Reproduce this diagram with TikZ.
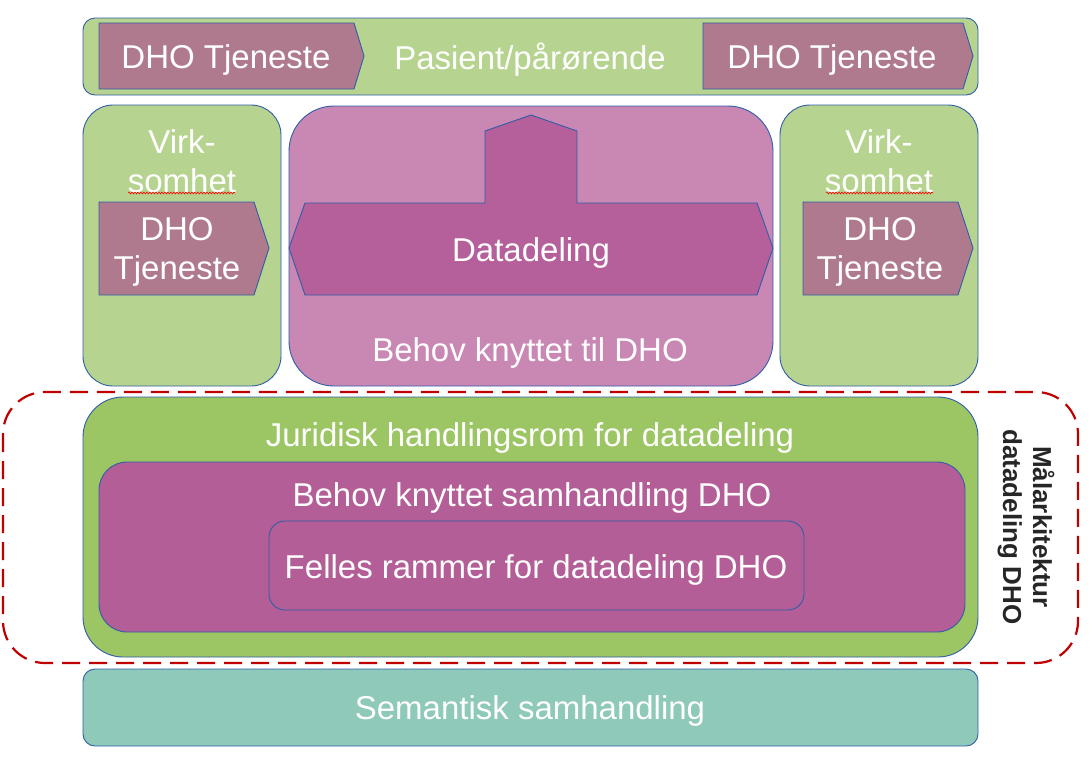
\documentclass[tikz,border=0pt]{standalone}
\usepackage{fontspec}
\setmainfont{Liberation Sans}
\usetikzlibrary{decorations.pathmorphing}
\definecolor{lgreen}{HTML}{B6D48F}
\definecolor{mgreen}{HTML}{9CC563}
\definecolor{lpurple}{HTML}{C987B4}
\definecolor{dpurple}{HTML}{B45E98}
\definecolor{spurple}{HTML}{B5609A}
\definecolor{mauve}{HTML}{B07A8E}
\definecolor{teal2}{HTML}{8FC9B9}
\definecolor{bline}{HTML}{2F5DA8}
\definecolor{dred}{HTML}{C00000}
\definecolor{dtext}{HTML}{262626}
\begin{document}
\begin{tikzpicture}[x=1pt,y=-1pt,
  box/.style={draw=bline,line width=0.9pt},
  wt/.style={text=white,font=\fontsize{33}{39}\selectfont,align=center,inner sep=0pt},
  rt/.style={text=dtext,font=\bfseries\fontsize{26}{30}\selectfont,align=center,inner sep=0pt,rotate=-90},
  squig/.style={draw=red,line width=0.6pt,decorate,decoration={snake,amplitude=0.9pt,segment length=3pt}}]
\useasboundingbox (0,0) rectangle (1091,758);
% top bar
\path[box,fill=lgreen,rounded corners=12pt] (83,18) rectangle (978,95);
\path[box,fill=mauve] (99,23) -- (354,23) -- (364,56) -- (354,89) -- (99,89) -- cycle;
\path[box,fill=mauve] (703,23) -- (963,23) -- (973,56) -- (963,89) -- (703,89) -- cycle;
\node[wt] (t1) at (226,60) {DHO Tjeneste};
\node[wt] (pas) at (530,60) {Pasient/pårørende};
\node[wt] (t2) at (832,60) {DHO Tjeneste};
% left Virksomhet
\path[box,fill=lgreen,rounded corners=30pt] (83,105) rectangle (281,386);
\node[wt] (v1) at (182,161) {Virk-\\somhet};
\draw[squig] (128,193) -- (235,193);
\path[box,fill=mauve] (99,202) -- (254,202) -- (269,248) -- (254,295) -- (99,295) -- cycle;
\node[wt] (d1) at (177,252) {DHO\\Tjeneste};
% right Virksomhet
\path[box,fill=lgreen,rounded corners=30pt] (780,105) rectangle (978,386);
\node[wt] (v2) at (879,161) {Virk-\\somhet};
\draw[squig] (826,193) -- (933,193);
\path[box,fill=mauve] (803,202) -- (958,202) -- (973,248) -- (958,295) -- (803,295) -- cycle;
\node[wt] (d2) at (880,252) {DHO\\Tjeneste};
% middle
\path[box,fill=lpurple,rounded corners=45pt] (289,106) rectangle (773,386);
\path[box,fill=spurple] (289,248) -- (305,203) -- (485,203) -- (485,131) -- (531,115) -- (577,131) -- (577,203) -- (757,203) -- (773,248) -- (757,295) -- (305,295) -- cycle;
\node[wt] (dd) at (531,253) {Datadeling};
\node[wt] (bk) at (530,353) {Behov knyttet til DHO};
% dashed frame
\draw[dred,line width=2.2pt,dash pattern=on 18pt off 9pt,rounded corners=42pt] (3,392) rectangle (1078,663);
% Juridisk
\path[box,fill=mgreen,rounded corners=40pt] (83,397) rectangle (978,657);
\node[wt] (jur) at (530,438) {Juridisk handlingsrom for datadeling};
\path[box,fill=dpurple,rounded corners=28pt] (99,462) rectangle (965,632);
\node[wt] (bs) at (532,498) {Behov knyttet samhandling DHO};
\path[box,fill=dpurple,rounded corners=16pt] (269,521) rectangle (804,610);
\node[wt] (fr) at (536,570) {Felles rammer for datadeling DHO};
% semantisk
\path[box,fill=teal2,rounded corners=12pt] (83,669) rectangle (978,746);
\node[wt] (sem) at (530,711) {Semantisk samhandling};
% rotated label
\node[rt] (mal) at (1026,527) {Målarkitektur\\datadeling DHO};
\end{tikzpicture}
\end{document}
